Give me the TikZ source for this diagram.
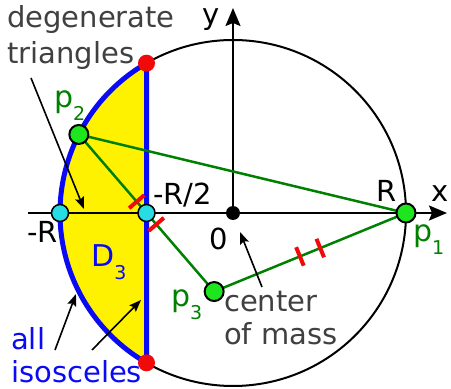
\documentclass[tikz,border=0pt]{standalone}
\usepackage{fontspec}
\setmainfont{DejaVu Sans}
\usetikzlibrary{calc,arrows.meta}
\definecolor{dgreen}{RGB}{0,128,0}
\definecolor{lgreen}{RGB}{30,230,30}
\definecolor{mycyan}{RGB}{40,220,230}
\definecolor{myblue}{RGB}{10,10,245}
\definecolor{mygray}{RGB}{64,64,64}
\definecolor{myred}{RGB}{240,10,10}
\newcommand\mysub[1]{\raisebox{-0.42em}{\fontsize{19}{19}\selectfont #1}}
\begin{document}
\begin{tikzpicture}[x=1pt,y=1pt,
  lbl/.style={font=\fontsize{29}{29}\selectfont, inner sep=0pt, anchor=base west},
  graylbl/.style={lbl, text=mygray},
  plbl/.style={lbl, font=\fontsize{30}{30}\selectfont, text=dgreen},
  axisline/.style={line width=2pt, -{Stealth[length=18pt,width=15pt,inset=3pt]}},
  pointer/.style={line width=1.6pt, -{Stealth[length=12pt,width=9pt,inset=2pt]}},
  gdot/.style={circle, fill=lgreen, draw=black, line width=2pt, minimum size=19pt, inner sep=0pt},
  cdot/.style={circle, fill=mycyan, draw=black, line width=1.5pt, minimum size=17pt, inner sep=0pt},
  rdot/.style={circle, fill=myred, minimum size=17pt, inner sep=0pt},
  kdot/.style={circle, fill=black, minimum size=14pt, inner sep=0pt},
  side/.style={dgreen, line width=2.5pt},
  tick/.style={myred, line width=4pt},
]
\useasboundingbox (0,0) rectangle (451,389);
\def\R{173}
\coordinate (O) at (233,176);
\coordinate (P1) at ($(O)+(0:\R)$);
\coordinate (P2) at ($(O)+(153:\R)$);
\coordinate (M) at ($(O)+(180:86.5)$);
\coordinate (P3) at ($(P2)!2!(M)$);
\coordinate (T) at ($(O)+(120:\R)$);
\coordinate (B) at ($(O)+(240:\R)$);
\coordinate (L) at ($(O)+(180:\R)$);
\coordinate (xs) at (28,176);
\coordinate (xe) at (447,176);
\coordinate (ye) at (233,381);

% circle and region
\draw[line width=2pt] (O) circle[radius=\R];
\fill[yellow] (T) arc[start angle=120,end angle=240,radius=\R] -- cycle;

% axes
\draw[axisline] (xs) -- (xe);
\draw[axisline] (O) -- (ye);

% blue boundary
\draw[myblue, line width=5pt, line join=round] (T) arc[start angle=120,end angle=240,radius=\R] -- cycle;

% triangle sides
\draw[side] (P2) -- (P1);
\draw[side] (P1) -- (P3);
\draw[side] (P2) -- (P3);

% equal-length ticks
\draw[tick] ($(M)!15pt!(P2)!10pt!90:(P2)$) -- ($(M)!15pt!(P2)!10pt!-90:(P2)$);
\draw[tick] ($(M)!15pt!(P3)!10pt!90:(P3)$) -- ($(M)!15pt!(P3)!10pt!-90:(P3)$);
\draw[tick] ($(P1)!0.447!(P3)!10pt!90:(P3)$) -- ($(P1)!0.447!(P3)!10pt!-90:(P3)$);
\draw[tick] ($(P1)!0.553!(P3)!10pt!90:(P3)$) -- ($(P1)!0.553!(P3)!10pt!-90:(P3)$);

% pointer arrows
\coordinate (dtail) at (31,311);
\coordinate (dtip) at (84,180);
\coordinate (i1tail) at (55,39);
\coordinate (i1tip) at (76,95);
\coordinate (i2tail) at (92,39);
\coordinate (i2tip) at (141,89);
\coordinate (ctail) at (262,102);
\coordinate (ctip) at (240,157);
\draw[pointer] (dtail) -- (dtip);
\draw[pointer] (i1tail) -- (i1tip);
\draw[pointer] (i2tail) -- (i2tip);
\draw[pointer] (ctail) -- (ctip);

% dots
\node[rdot] (t) at (T) {};
\node[rdot] (b) at (B) {};
\node[cdot] (l) at (L) {};
\node[cdot] (m) at (M) {};
\node[kdot] (o) at (O) {};
\node[gdot] (p1) at (P1) {};
\node[gdot] (p2) at (P2) {};
\node[gdot] (p3) at (P3) {};

% labels
\node[graylbl] (deg1) at (7,361) {degenerate};
\node[graylbl] (deg2) at (7,325) {triangles};
\node[lbl] (ylab) at (202,364) {y};
\node[lbl] (xlab) at (431,187) {x};
\node[lbl] (rlab) at (376,187) {R};
\node[lbl] (mrlab) at (27,146) {-R};
\node[lbl] (mr2lab) at (153,184) {-R/2};
\node[lbl] (zlab) at (209,139) {0};
\node[plbl] (p1lab) at (413,147) {p\mysub{1}};
\node[plbl] (p2lab) at (54,281) {p\mysub{2}};
\node[plbl] (p3lab) at (171,82) {p\mysub{3}};
\node[lbl, font=\fontsize{30}{30}\selectfont, text=myblue] (dlab) at (91,122) {D\mysub{3}};
\node[graylbl] (com1) at (224,77) {center};
\node[graylbl] (com2) at (224,44) {of mass};
\node[lbl, text=myblue] (iso1) at (11,39) {all};
\node[lbl, text=myblue] (iso2) at (11,6) {isosceles};
\end{tikzpicture}
\end{document}
